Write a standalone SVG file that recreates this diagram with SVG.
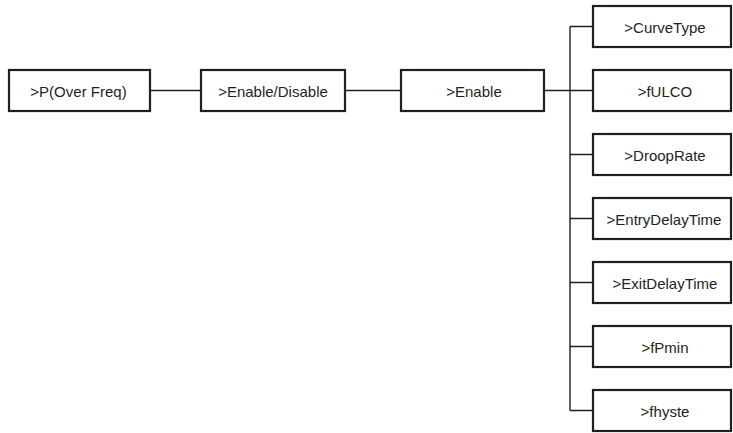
<svg xmlns="http://www.w3.org/2000/svg" width="733" height="433" viewBox="0 0 733 433">
<style>
.box{fill:#fff;stroke:#231f20;stroke-width:2.2}
.lbl{font-family:"Liberation Sans",Arial,sans-serif;font-size:15px;fill:#231f20;text-anchor:middle}
.con{stroke:#231f20;stroke-width:1.4;fill:none}
</style>
<rect width="733" height="433" fill="#fff"/>
<g id="connectors">
<path class="con" d="M150 90.5H201M345 90.5H401M544 90.5H593"/>
<path class="con" d="M570 26.5V410.5M570 26.5H593M570 154.5H593M570 218.5H593M570 282.5H593M570 346.5H593M570 410.5H593"/>
</g>
<g id="n-pover"><rect class="box" x="9" y="70" width="141" height="41"/><text class="lbl" x="78.5" y="96.5">&gt;P(Over Freq)</text></g>
<g id="n-enable-disable"><rect class="box" x="201" y="70" width="144" height="41"/><text class="lbl" x="273" y="96.5">&gt;Enable/Disable</text></g>
<g id="n-enable"><rect class="box" x="401" y="70" width="143" height="41"/><text class="lbl" x="474" y="96.5">&gt;Enable</text></g>
<g id="n-curvetype"><rect class="box" x="593" y="6" width="138" height="41"/><text class="lbl" x="665" y="32.5">&gt;CurveType</text></g>
<g id="n-fulco"><rect class="box" x="593" y="70" width="138" height="41"/><text class="lbl" x="665" y="96.5">&gt;fULCO</text></g>
<g id="n-drooprate"><rect class="box" x="593" y="134" width="138" height="41"/><text class="lbl" x="665" y="160.5">&gt;DroopRate</text></g>
<g id="n-entrydelay"><rect class="box" x="593" y="198" width="138" height="41"/><text class="lbl" x="664" y="224.5">&gt;EntryDelayTime</text></g>
<g id="n-exitdelay"><rect class="box" x="593" y="262" width="138" height="41"/><text class="lbl" x="665" y="288.5">&gt;ExitDelayTime</text></g>
<g id="n-fpmin"><rect class="box" x="593" y="326" width="138" height="41"/><text class="lbl" x="665" y="352.5">&gt;fPmin</text></g>
<g id="n-fhyste"><rect class="box" x="593" y="390" width="138" height="41"/><text class="lbl" x="665" y="416.5">&gt;fhyste</text></g>
</svg>
